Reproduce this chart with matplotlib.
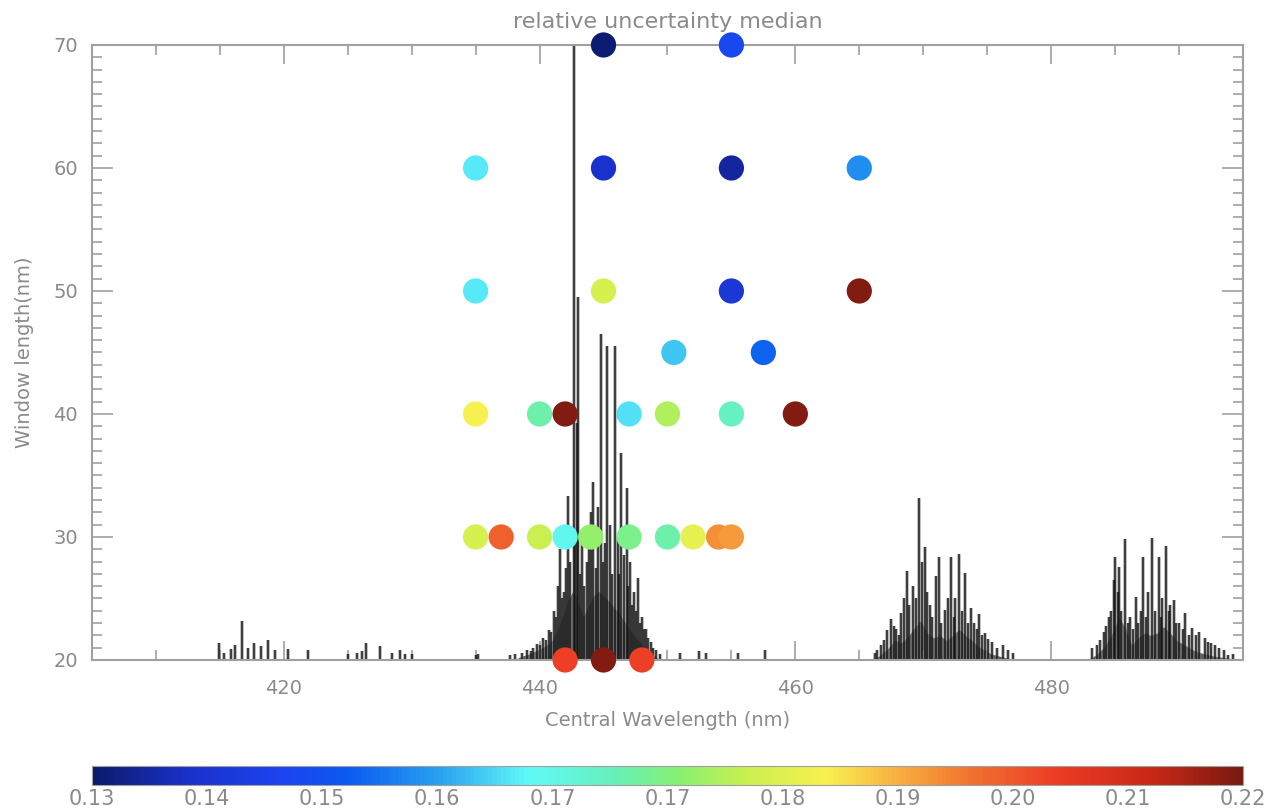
import numpy as np
import matplotlib
matplotlib.use("Agg")
import matplotlib.pyplot as plt
from matplotlib.colors import LinearSegmentedColormap, Normalize
from matplotlib.cm import ScalarMappable
from matplotlib.ticker import MultipleLocator

# window grid: central wavelength (nm), window length (nm), median relative uncertainty
center_wl = [445, 455,
             435, 445, 455, 465,
             435, 445, 455, 465,
             450.5, 457.5,
             435, 440, 442, 447, 450, 455, 460,
             435, 437, 440, 442, 444, 447, 450, 452, 454, 455,
             442, 445, 448]
window_len = [70, 70,
              60, 60, 60, 60,
              50, 50, 50, 50,
              45, 45,
              40, 40, 40, 40, 40, 40, 40,
              30, 30, 30, 30, 30, 30, 30, 30, 30, 30,
              20, 20, 20]
rel_unc = [0.131, 0.146,
           0.163, 0.138, 0.134, 0.155,
           0.163, 0.183, 0.140, 0.219,
           0.160, 0.151,
           0.187, 0.172, 0.219, 0.162, 0.179, 0.170, 0.219,
           0.183, 0.201, 0.181, 0.165, 0.177, 0.174, 0.172, 0.185, 0.196, 0.195,
           0.205, 0.219, 0.205]

# emission lines of the spectrum, scaled onto the window-length axis
line_wl = [414.9, 415.3, 415.9, 416.2, 416.7, 417.2, 417.7, 418.2, 418.8, 419.3,
           420.3, 421.9, 425.0, 425.7, 426.1, 426.4, 427.5, 428.5, 429.1, 429.5,
           430.0, 435.0, 435.2, 437.7, 438.1, 438.6, 439.0, 439.3, 439.5, 439.8,
           440.0, 440.3, 440.5, 440.7, 440.9, 441.1, 441.3, 441.45, 441.6, 441.75,
           441.9, 442.05, 442.2, 442.4, 442.66, 442.8, 442.9, 443.0, 443.15, 443.3,
           443.5, 443.7, 443.85, 444.0, 444.2, 444.4, 444.6, 444.8, 444.95, 445.1,
           445.3, 445.5, 445.7, 445.9, 446.1, 446.25, 446.4, 446.6, 446.8, 446.95,
           447.1, 447.25, 447.4, 447.55, 447.7, 447.85, 448.0, 448.15, 448.3, 448.5,
           448.7, 448.9, 449.1, 449.4, 451.0, 452.5, 453.0, 455.5, 457.6,
           466.2, 466.4, 466.7, 466.9, 467.2, 467.5, 467.7, 467.9, 468.1, 468.3,
           468.5, 468.7, 468.9, 469.2, 469.4, 469.7, 469.9, 470.1, 470.3, 470.5,
           470.7, 471.0, 471.2, 471.4, 471.7, 471.9, 472.2, 472.4, 472.5, 472.8,
           473.0, 473.3, 473.5, 473.7, 474.0, 474.2, 474.4, 474.6, 474.8, 475.1,
           475.4, 475.8, 476.2, 476.6, 477.0,
           483.2, 483.6, 483.8, 484.1, 484.3, 484.5, 484.7, 484.9, 485.0, 485.2,
           485.3, 485.5, 485.8, 486.0, 486.2, 486.4, 486.6, 486.8, 487.0, 487.2,
           487.4, 487.6, 487.9, 488.1, 488.4, 488.6, 488.7, 489.0, 489.2, 489.3,
           489.6, 489.8, 490.0, 490.3, 490.5, 490.8, 491.0, 491.3, 491.6, 492.0,
           492.3, 492.5, 492.8, 493.1, 493.5, 493.8, 494.2]
line_top = [21.4, 20.6, 20.9, 21.2, 23.2, 21.0, 21.4, 21.1, 21.6, 20.8,
            20.9, 20.8, 20.5, 20.6, 20.7, 21.4, 21.1, 20.6, 20.8, 20.5,
            20.5, 20.4, 20.5, 20.4, 20.5, 20.6, 20.8, 20.7, 21.0, 21.3,
            21.2, 21.8, 21.6, 22.4, 22.3, 24.0, 23.5, 26.0, 29.0, 25.0,
            25.5, 27.5, 33.3, 28.0, 72.0, 30.0, 39.3, 49.5, 27.0, 30.5,
            26.0, 28.0, 29.5, 32.0, 34.5, 27.5, 32.4, 46.5, 28.0, 29.5,
            45.5, 31.0, 27.0, 45.5, 30.0, 27.0, 36.8, 28.5, 34.0, 26.0,
            28.0, 24.5, 25.5, 24.0, 26.7, 23.0, 23.5, 22.5, 22.5, 21.8,
            21.5, 21.0, 20.8, 20.5, 20.6, 20.7, 20.6, 20.6, 20.8,
            20.6, 20.8, 21.2, 21.6, 22.4, 23.3, 22.8, 22.5, 22.0, 23.8,
            25.0, 27.2, 24.5, 26.0, 25.0, 33.2, 28.0, 29.2, 25.5, 24.5,
            23.5, 26.8, 28.4, 23.0, 24.1, 25.0, 28.4, 23.5, 25.0, 28.6,
            24.0, 27.1, 23.0, 24.2, 23.0, 22.5, 23.7, 22.0, 22.2, 21.7,
            21.5, 21.0, 21.2, 20.8, 20.6,
            21.0, 21.2, 21.6, 22.3, 22.8, 23.5, 24.0, 26.5, 28.4, 25.5,
            27.6, 24.0, 29.8, 23.0, 23.5, 22.5, 25.1, 23.0, 24.0, 28.4,
            23.5, 25.5, 29.9, 24.0, 28.4, 23.5, 25.0, 29.3, 24.0, 24.5,
            24.9, 23.0, 23.0, 22.5, 23.8, 22.0, 22.6, 22.0, 22.3, 21.8,
            21.5, 21.4, 21.2, 21.0, 20.8, 20.4, 20.5]

# dense unresolved background under each band
env_wl = [438.0, 438.6, 439.2, 439.8, 440.4, 441.0, 441.4, 441.8, 442.2, 442.6,
          443.0, 443.4, 443.8, 444.2, 444.6, 445.0, 445.4, 445.8, 446.2, 446.6,
          447.0, 447.4, 447.8, 448.2, 448.6, 449.0, 449.4,
          465.8, 466.5, 467.2, 467.8, 468.3, 468.8, 469.3, 469.8, 470.3, 470.8,
          471.3, 471.8, 472.3, 472.8, 473.3, 473.8, 474.3, 474.8, 475.3, 476.0,
          476.8, 477.5,
          482.8, 483.5, 484.2, 484.8, 485.3, 485.8, 486.3, 486.8, 487.3, 487.8,
          488.3, 488.8, 489.3, 489.8, 490.3, 490.8, 491.3, 492.0, 492.8, 493.5,
          494.2, 495.0]
env_top = [20.0, 20.3, 20.5, 20.8, 21.1, 21.6, 22.4, 23.5, 24.8, 25.6,
           24.8, 23.5, 24.3, 25.2, 25.6, 25.2, 24.8, 24.3, 23.8, 23.2,
           22.6, 22.0, 21.5, 21.0, 20.6, 20.3, 20.0,
           20.0, 20.3, 20.9, 21.6, 21.4, 21.9, 22.6, 23.2, 22.2, 21.8,
           22.0, 21.6, 22.0, 22.5, 22.0, 21.6, 21.1, 20.8, 20.5, 20.3,
           20.1, 20.0,
           20.0, 20.4, 21.1, 22.2, 23.5, 22.6, 21.2, 21.8, 22.2, 22.0,
           22.2, 22.7, 22.2, 21.6, 21.3, 21.0, 20.7, 20.5, 20.3, 20.2,
           20.1, 20.05]

cbar_ticks = [0.13, 0.139, 0.148, 0.157, 0.166, 0.175, 0.184, 0.193, 0.202, 0.211, 0.22]

# jet-like scale running from dark navy to dark red
cmap_stops = [(0.130, "#0a1a68"), (0.137, "#1a30c8"), (0.145, "#1c44f0"),
              (0.150, "#0a5af0"), (0.157, "#28a0f0"), (0.164, "#60f8f8"),
              (0.171, "#66f0b8"), (0.176, "#88f070"), (0.181, "#c8f050"),
              (0.1875, "#f8f050"), (0.193, "#f8b040"), (0.199, "#f07030"),
              (0.2055, "#ec3c24"), (0.213, "#c82818"), (0.220, "#7a1a10")]
vmin, vmax = 0.13, 0.22
cmap = LinearSegmentedColormap.from_list(
    "unc", [((v - vmin) / (vmax - vmin), c) for v, c in cmap_stops])
norm = Normalize(vmin, vmax)

grey = "#8a8a8a"
frame = "#a0a0a0"

fig = plt.figure(figsize=(12.7, 8.09), dpi=100)
ax = fig.add_axes([0.0724, 0.1842, 0.9063, 0.7602])

ax.fill_between(env_wl, 20, env_top, color="0.2", alpha=0.8, lw=0, zorder=1)
ax.vlines(line_wl, 20, line_top, color="0.45", lw=2.6, alpha=0.55, zorder=2)
ax.vlines(line_wl, 20, line_top, color="0.05", lw=1.1, alpha=0.9, zorder=2)
ax.scatter(center_wl, window_len, c=rel_unc, cmap=cmap, norm=norm,
           s=330, edgecolors="none", zorder=3, clip_on=False)

ax.set_xlim(405, 495)
ax.set_ylim(20, 70)
ax.xaxis.set_major_locator(MultipleLocator(20))
ax.xaxis.set_minor_locator(MultipleLocator(5))
ax.yaxis.set_major_locator(MultipleLocator(10))
ax.yaxis.set_minor_locator(MultipleLocator(1))
ax.tick_params(which="both", direction="in", top=True, right=True,
               color=frame, labelcolor=grey, labelsize=14, width=1.2)
ax.tick_params(axis="x", which="major", length=14, pad=14)
ax.tick_params(axis="x", which="minor", length=7)
ax.tick_params(axis="y", which="major", length=15, pad=10)
ax.tick_params(axis="y", which="minor", length=7)
for sp in ax.spines.values():
    sp.set_color(frame)
    sp.set_linewidth(1.5)

ax.set_title("relative uncertainty median", color=grey, fontsize=16, pad=12)
ax.set_xlabel("Central Wavelength (nm)", color=grey, fontsize=14, labelpad=9)
ax.set_ylabel("Window length(nm)", color=grey, fontsize=14, labelpad=14)

cax = fig.add_axes([0.0724, 0.0297, 0.9063, 0.0235])
sm = ScalarMappable(norm=norm, cmap=cmap)
cb = fig.colorbar(sm, cax=cax, orientation="horizontal", ticks=cbar_ticks, format="%.2f")
cb.outline.set_edgecolor(frame)
cax.tick_params(length=0, labelcolor=grey, labelsize=15, pad=3)

fig.savefig("out.png", dpi=100)
